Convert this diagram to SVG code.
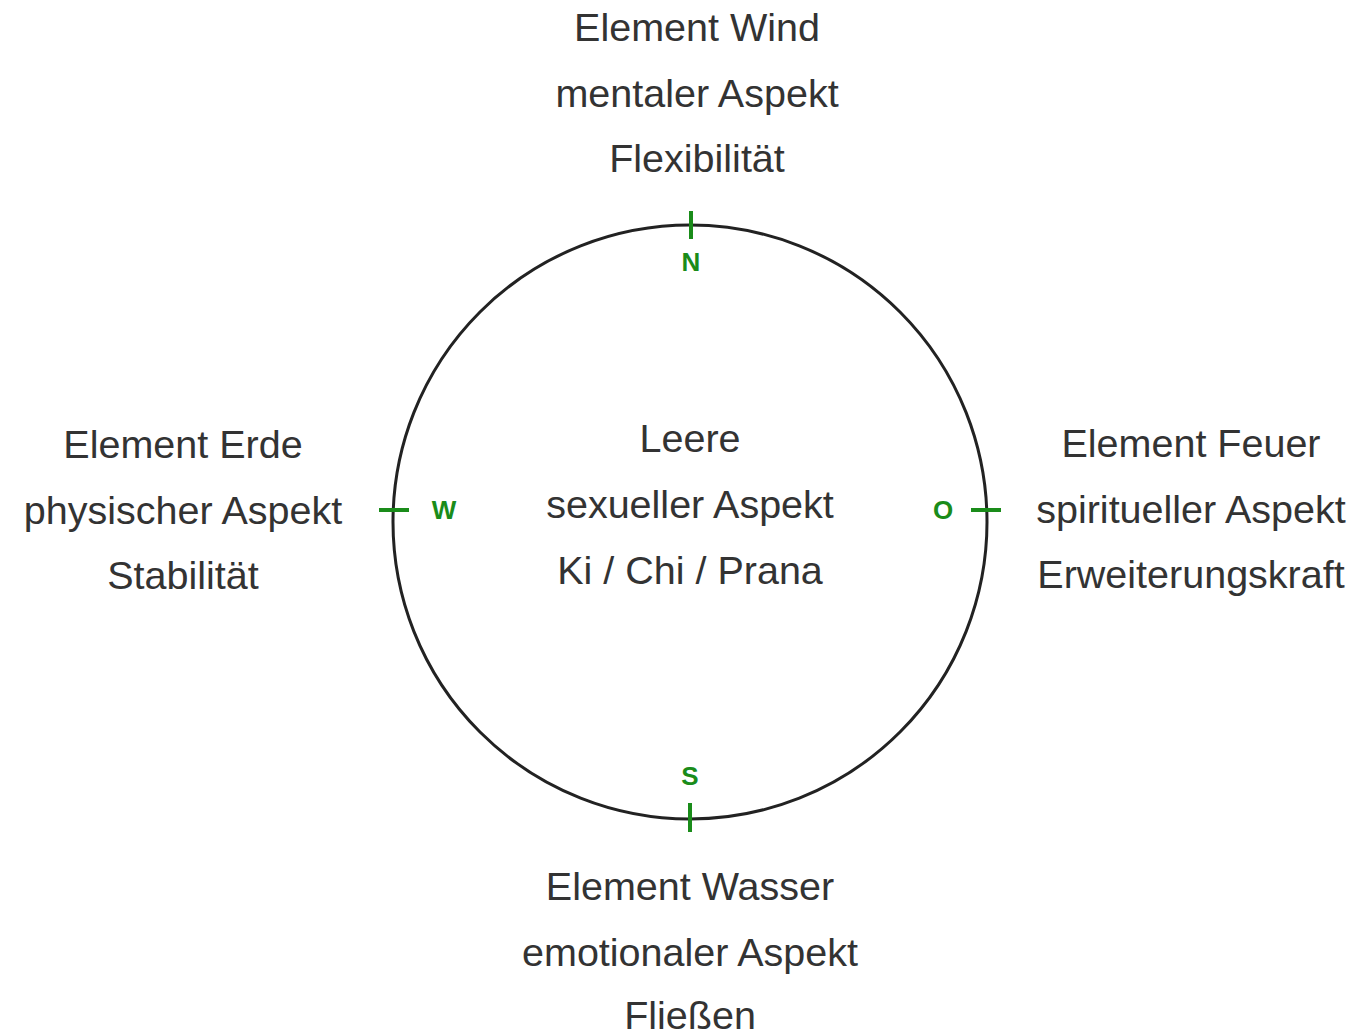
<svg xmlns="http://www.w3.org/2000/svg" width="1358" height="1036" viewBox="0 0 1358 1036">
<style>
.t{font-family:"Liberation Sans",Arial,sans-serif;font-size:39.5px;fill:#333;text-anchor:middle}
.d{font-family:"Liberation Sans",Arial,sans-serif;font-size:26px;font-weight:bold;fill:#1a8c1a;text-anchor:middle}
.k{stroke:#1a8c1a;stroke-width:4}
</style>
<rect width="1358" height="1036" fill="#fff"/>
<g id="connectors">
<circle cx="690" cy="522" r="297" fill="none" stroke="#222" stroke-width="3"/>
<line class="k" x1="691" y1="211" x2="691" y2="239"/>
<line class="k" x1="690" y1="803" x2="690" y2="832"/>
<line class="k" x1="379" y1="510" x2="409" y2="510"/>
<line class="k" x1="971" y1="510" x2="1001" y2="510"/>
</g>
<g id="labels-dir">
<text class="d" x="691" y="271">N</text>
<text class="d" x="444" y="519">W</text>
<text class="d" x="943" y="519">O</text>
<text class="d" x="690" y="785">S</text>
</g>
<g id="node-north">
<text class="t" x="697" y="41">Element Wind</text>
<text class="t" x="697" y="107">mentaler Aspekt</text>
<text class="t" x="697" y="172">Flexibilität</text>
</g>
<g id="node-west">
<text class="t" x="183" y="458">Element Erde</text>
<text class="t" x="183" y="524">physischer Aspekt</text>
<text class="t" x="183" y="589">Stabilität</text>
</g>
<g id="node-center">
<text class="t" x="690" y="452">Leere</text>
<text class="t" x="690" y="518">sexueller Aspekt</text>
<text class="t" x="690" y="584">Ki / Chi / Prana</text>
</g>
<g id="node-east">
<text class="t" x="1191" y="457">Element Feuer</text>
<text class="t" x="1191" y="523">spiritueller Aspekt</text>
<text class="t" x="1191" y="588">Erweiterungskraft</text>
</g>
<g id="node-south">
<text class="t" x="690" y="900">Element Wasser</text>
<text class="t" x="690" y="966">emotionaler Aspekt</text>
<text class="t" x="690" y="1029">Fließen</text>
</g>
</svg>
